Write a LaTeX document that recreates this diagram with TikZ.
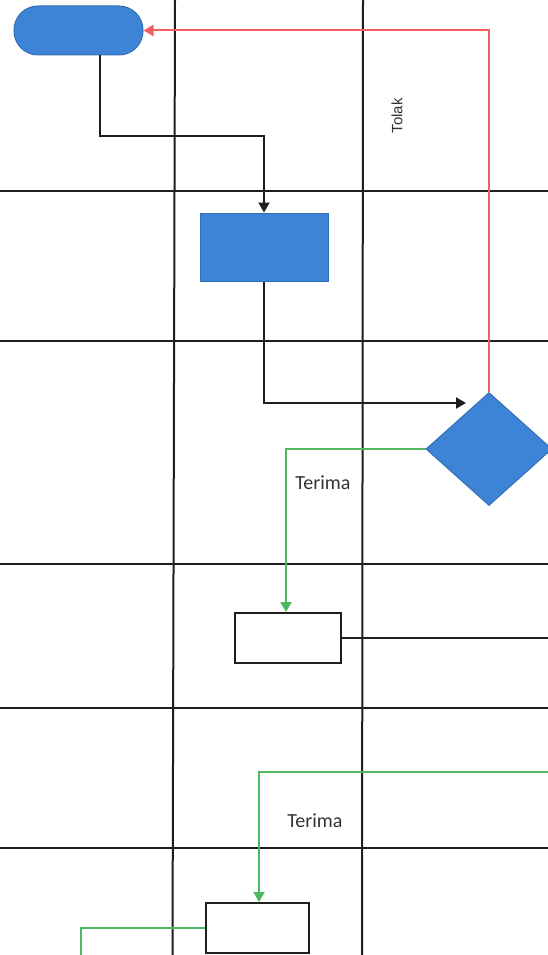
\documentclass[tikz,border=0pt]{standalone}
\usepackage{fontspec}
\setmainfont{Carlito}
\newfontfamily\arialfont{Liberation Sans}
\usetikzlibrary{arrows.meta,shapes.geometric}
\definecolor{flowblue}{HTML}{3D84D6}
\definecolor{flowedge}{HTML}{346FB5}
\definecolor{rejectred}{HTML}{F2605E}
\definecolor{acceptgreen}{HTML}{4DB95E}
\definecolor{gridline}{HTML}{1E1E1E}
\definecolor{labeltext}{HTML}{333333}
\tikzset{
  lane/.style={draw=gridline, line width=2pt},
  flowline/.style={line width=2pt, -{Triangle[length=10pt,width=11pt]}},
  plainline/.style={line width=2pt},
  terminal/.style={draw=flowedge, fill=flowblue, line width=1pt, rounded corners=24pt,
    minimum width=129pt, minimum height=49pt, inner sep=0pt},
  process/.style={draw=flowedge, fill=flowblue, line width=1pt,
    minimum width=128pt, minimum height=68pt, inner sep=0pt},
  decision/.style={diamond, draw=flowedge, fill=flowblue, line width=1pt,
    minimum width=126pt, minimum height=113pt, inner sep=0pt},
  docbox/.style={draw=gridline, line width=2pt, fill=white,
    minimum height=50pt, inner sep=0pt},
  lbl/.style={text=labeltext, font=\fontsize{20}{22}\selectfont, inner sep=0pt},
}
\begin{document}
\begin{tikzpicture}[x=1pt,y=-1pt]
\useasboundingbox (0,0) rectangle (548,955);
\clip (0,0) rectangle (548,955);
\fill[white] (0,0) rectangle (548,955);

% swimlane grid
\draw[lane] (175,0) -- (172.5,955);
\draw[lane] (363,0) -- (362,955);
\foreach \y in {191,341,564,708,848}
  \draw[lane] (0,\y) -- (548,\y);

% shapes
\node[terminal] (start) at (78.5,30.5) {};
\node[process] (proc) at (264,247) {};
\node[decision] (dia) at (489,449) {};
\node[docbox, minimum width=106pt] (doc1) at (288,638) {};
\node[docbox, minimum width=103pt] (doc2) at (257.5,928) {};

% free ends
\coordinate (inA) at (466,403);
\coordinate (outA) at (548,638);
\coordinate (inB) at (548,772);
\coordinate (outB) at (81,955);

% connectors
\draw[flowline, draw=gridline] ([xshift=21.5pt]start.south) -- ++(0,80) -| (proc.north);
\draw[flowline, draw=gridline] (proc.south) |- (inA);
\draw[flowline, draw=rejectred] (dia.north) |- (start.east);
\draw[flowline, draw=acceptgreen] (dia.west) -| ([xshift=-2pt]doc1.north);
\draw[plainline, draw=gridline] (doc1.east) -- (outA);
\draw[flowline, draw=acceptgreen] (inB) -| ([xshift=1.5pt]doc2.north);
\draw[plainline, draw=acceptgreen] (doc2.west) -| (outB);

% labels
\node[lbl] (t1) at (323,483) {Terima};
\node[lbl] (t2) at (315,821) {Terima};
\node[lbl, font=\arialfont\fontsize{15}{17}\selectfont, rotate=90] (t3) at (397,116) {Tolak};
\end{tikzpicture}
\end{document}
